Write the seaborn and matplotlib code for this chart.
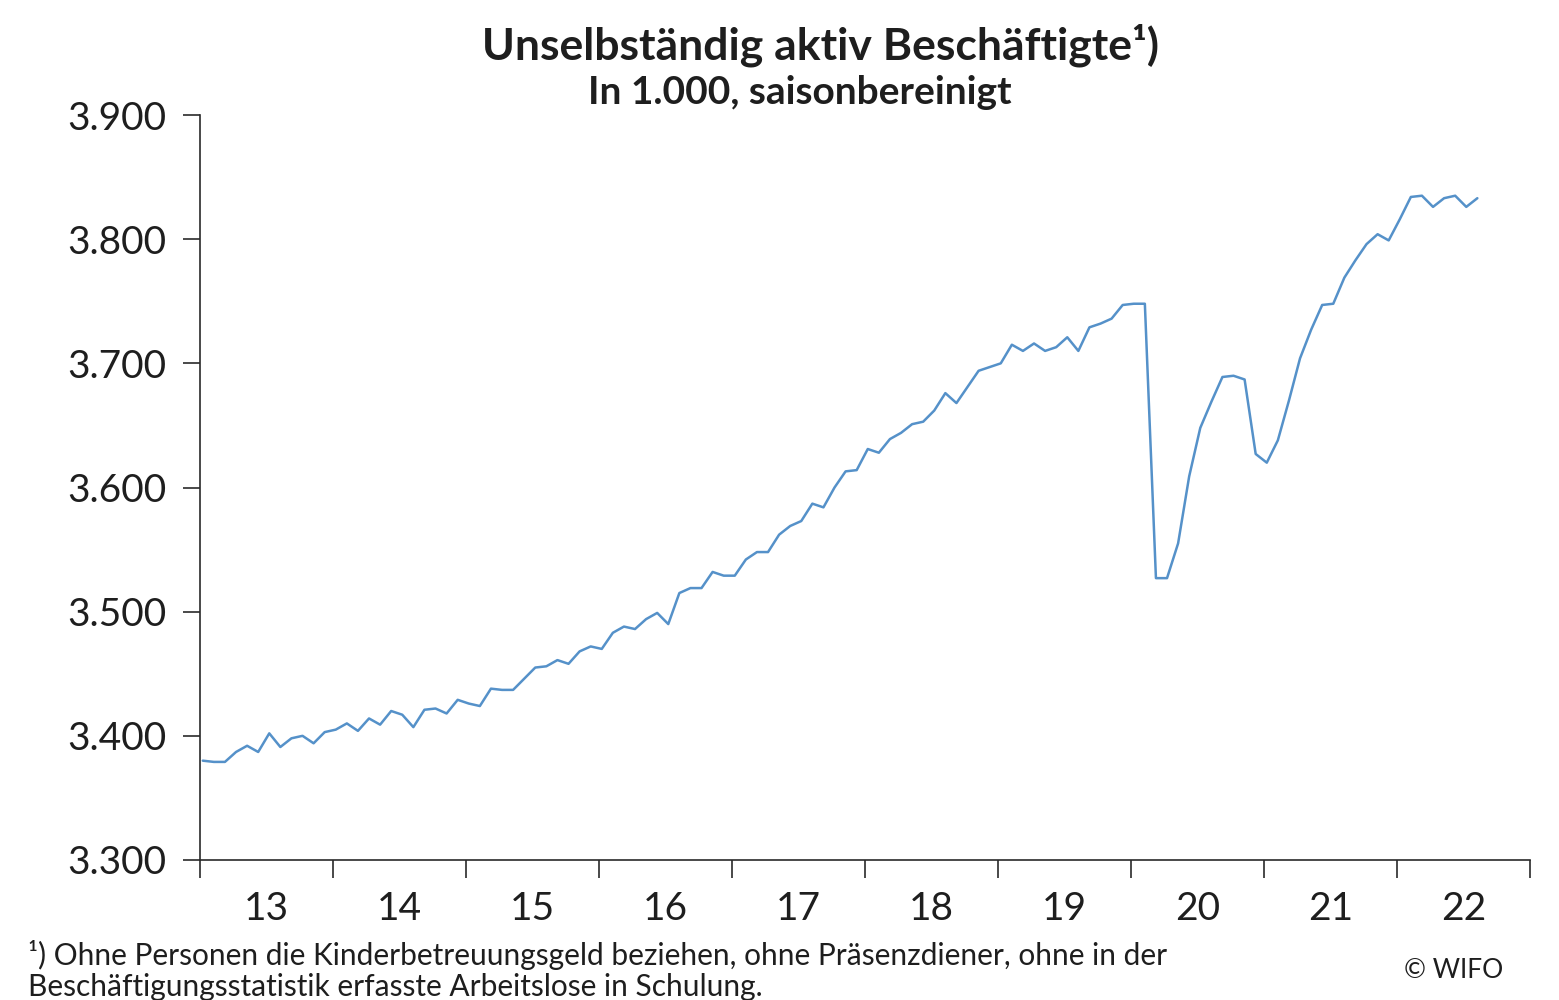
import numpy as np
import pandas as pd
import matplotlib
matplotlib.use("Agg")
import matplotlib.pyplot as plt
import seaborn as sns

# ---------------- data ----------------
start_year = 2013
employment = [
    3380, 3379, 3379, 3387, 3392, 3387, 3402, 3391, 3398, 3400, 3394, 3403,
    3405, 3410, 3404, 3414, 3409, 3420, 3417, 3407, 3421, 3422, 3418, 3429,
    3426, 3424, 3438, 3437, 3437, 3446, 3455, 3456, 3461, 3458, 3468, 3472,
    3470, 3483, 3488, 3486, 3494, 3499, 3490, 3515, 3519, 3519, 3532, 3529,
    3529, 3542, 3548, 3548, 3562, 3569, 3573, 3587, 3584, 3600, 3613, 3614,
    3631, 3628, 3639, 3644, 3651, 3653, 3662, 3676, 3668, 3681, 3694, 3697,
    3700, 3715, 3710, 3716, 3710, 3713, 3721, 3710, 3729, 3732, 3736, 3747,
    3748, 3748, 3527, 3527, 3555, 3609, 3648, 3669, 3689, 3690, 3687, 3627,
    3620, 3638, 3670, 3704, 3727, 3747, 3748, 3769, 3783, 3796, 3804, 3799,
    3816, 3834, 3835, 3826, 3833, 3835, 3826, 3833,
]
year_labels = ["13", "14", "15", "16", "17", "18", "19", "20", "21", "22"]
y_ticks = [3300, 3400, 3500, 3600, 3700, 3800, 3900]
y_tick_labels = ["3.300", "3.400", "3.500", "3.600", "3.700", "3.800", "3.900"]
title = "Unselbständig aktiv Beschäftigte¹)"
subtitle = "In 1.000, saisonbereinigt"
footnote_lines = [
    "¹) Ohne Personen die Kinderbetreuungsgeld beziehen, ohne Präsenzdiener, ohne in der",
    "Beschäftigungsstatistik erfasste Arbeitslose in Schulung.",
]
credit = "© WIFO"

month_index = np.arange(len(employment))
df = pd.DataFrame({
    "x": start_year + (month_index + 0.25) / 12.0,
    "value": employment,
})

# ---------------- style ----------------
sns.set_theme(style="ticks")
plt.rcParams["font.family"] = ["Lato", "DejaVu Sans"]

line_color = "#5591C9"
text_color = "#1E1E1E"
axis_color = "#2A2A2A"

fig = plt.figure(figsize=(15.59, 10), dpi=100)
ax = fig.add_axes([200 / 1559, 0.14, 1330 / 1559, 0.745])

sns.lineplot(data=df, x="x", y="value", ax=ax, color=line_color, linewidth=1.8)

n_years = len(year_labels)
ax.set_xlim(start_year, start_year + n_years)
ax.set_ylim(y_ticks[0], y_ticks[-1])

# major ticks at year boundaries (no labels), minor ticks at mid-year (labels)
ax.set_xticks(np.arange(start_year, start_year + n_years + 1))
ax.set_xticklabels([])
ax.set_xticks(np.arange(start_year, start_year + n_years) + 0.5, minor=True)
ax.set_xticklabels(year_labels, minor=True)
ax.tick_params(axis="x", which="major", direction="out", length=13, width=1.2,
               color=axis_color)
ax.tick_params(axis="x", which="minor", length=0, pad=22, labelsize=28,
               labelcolor=text_color)

ax.set_yticks(y_ticks)
ax.set_yticklabels(y_tick_labels)
ax.tick_params(axis="y", direction="out", length=12, width=1.2, color=axis_color,
               pad=12, labelsize=28, labelcolor=text_color)

ax.set_xlabel("")
ax.set_ylabel("")
sns.despine(ax=ax)
for side in ("left", "bottom"):
    ax.spines[side].set_color(axis_color)
    ax.spines[side].set_linewidth(1.2)
ax.grid(False)

fig.text(820 / 1559, 1 - 45 / 1000, title, ha="center", va="center",
         fontsize=32, fontweight="bold", color=text_color)
fig.text(800 / 1559, 1 - 93 / 1000, subtitle, ha="center", va="center",
         fontsize=28, fontweight="bold", color=text_color)

fig.text(28 / 1559, 1 - 955 / 1000, footnote_lines[0], ha="left", va="center",
         fontsize=21.5, color=text_color)
fig.text(28 / 1559, 1 - 987 / 1000, footnote_lines[1], ha="left", va="center",
         fontsize=21.5, color=text_color)
fig.text(1503 / 1559, 1 - 970 / 1000, credit, ha="right", va="center",
         fontsize=19, color=text_color)

fig.savefig("out.png", dpi=100, facecolor="white")
